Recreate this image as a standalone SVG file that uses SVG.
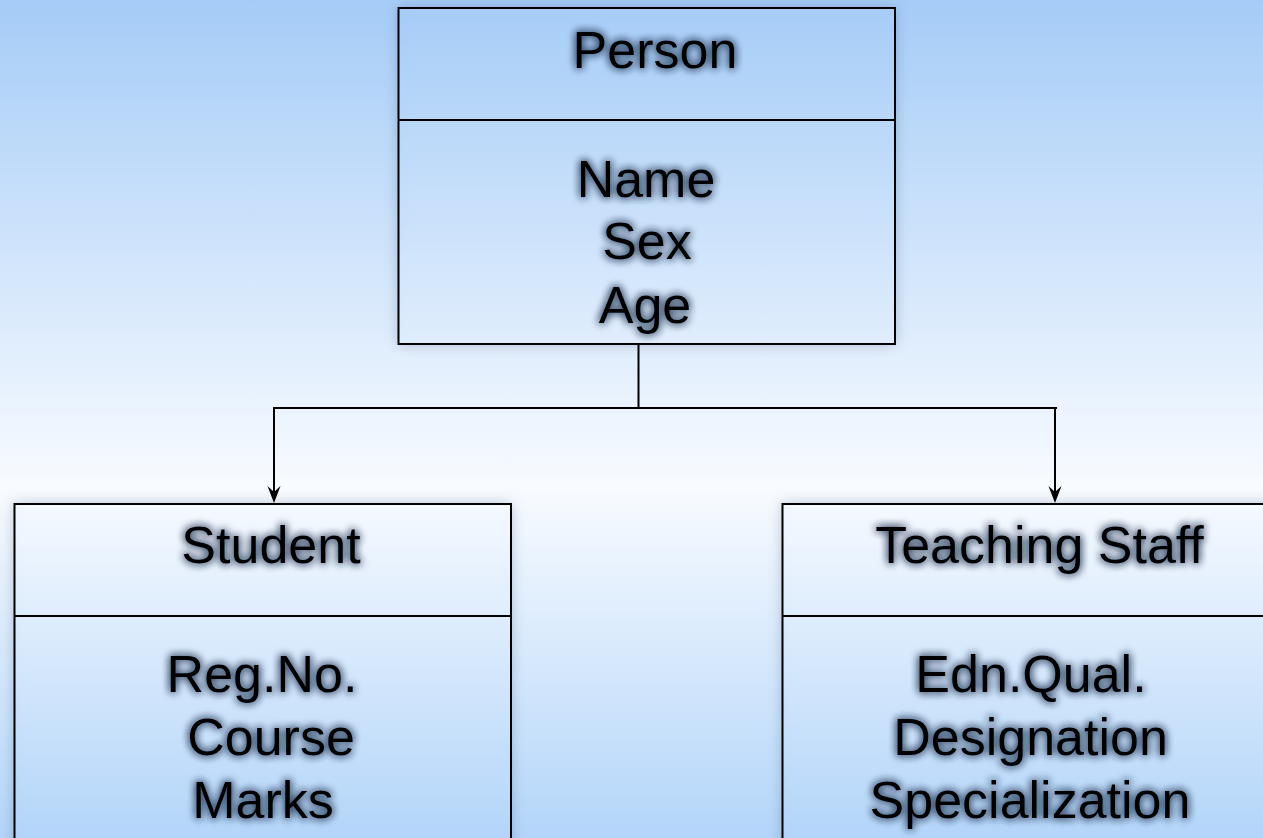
<svg xmlns="http://www.w3.org/2000/svg" width="1263" height="838" viewBox="0 0 1263 838">
  <defs>
    <linearGradient id="bg" gradientUnits="userSpaceOnUse" x1="0" y1="0" x2="0" y2="838">
      <stop offset="0" stop-color="#a5ccf7"/>
      <stop offset="0.58" stop-color="#f8fbff"/>
      <stop offset="1" stop-color="#b3d5f9"/>
    </linearGradient>
    <!-- soft drop shadow behind each class box -->
    <filter id="boxShadow" x="-10%" y="-10%" width="120%" height="120%">
      <feGaussianBlur stdDeviation="7"/>
    </filter>
    <!-- faint inner shading along the box edges -->
    <filter id="innerShade" x="0" y="0" width="100%" height="100%">
      <feFlood flood-color="#5a7190" flood-opacity="0.35" result="c"/>
      <feComposite in="c" in2="SourceAlpha" operator="out" result="ring"/>
      <feGaussianBlur in="ring" stdDeviation="6" result="blur"/>
      <feComposite in="blur" in2="SourceAlpha" operator="in" result="inner"/>
      <feMerge>
        <feMergeNode in="SourceGraphic"/>
        <feMergeNode in="inner"/>
      </feMerge>
    </filter>
    <!-- dark glow behind the lettering -->
    <filter id="glow" x="-20%" y="-40%" width="140%" height="180%">
      <feGaussianBlur in="SourceAlpha" stdDeviation="4.5" result="b"/>
      <feFlood flood-color="#22324c" flood-opacity="0.85"/>
      <feComposite in2="b" operator="in" result="s"/>
      <feMerge>
        <feMergeNode in="s"/>
        <feMergeNode in="s"/>
        <feMergeNode in="SourceGraphic"/>
      </feMerge>
    </filter>
    <!-- downward barbed arrowhead, tip at the origin -->
    <path id="head" d="M0 0 L-6.5 -17 L0 -11 L6.5 -17 Z" fill="#000"/>
    <style>
      .frame { fill: url(#bg); stroke: none; filter: url(#innerShade); }
      .edge { fill: none; stroke: #000; stroke-width: 2; }
      .shadow { fill: #3c5272; opacity: 0.35; filter: url(#boxShadow); }
      .label { font-family: "Liberation Sans", Arial, sans-serif; font-size: 52px; fill: #000; text-anchor: middle; filter: url(#glow); }
      .link { fill: none; stroke: #000; stroke-width: 2; }
    </style>
  </defs>

  <rect x="0" y="0" width="1263" height="838" fill="url(#bg)"/>

  <!-- Person class -->
  <g id="person">
    <rect class="shadow" x="398.5" y="8" width="496.5" height="336"/>
    <rect class="frame" x="398.5" y="8" width="496.5" height="336"/>
    <rect class="edge" x="398.5" y="8" width="496.5" height="336"/>
    <line class="edge" x1="398.5" y1="120" x2="895" y2="120"/>
    <text class="label" x="655" y="68">Person</text>
    <text class="label" x="646" y="197">Name</text>
    <text class="label" x="647" y="259">Sex</text>
    <text class="label" x="645" y="323">Age</text>
  </g>

  <!-- Student class -->
  <g id="student">
    <rect class="shadow" x="14.5" y="504" width="496.5" height="350"/>
    <rect class="frame" x="14.5" y="504" width="496.5" height="350"/>
    <rect class="edge" x="14.5" y="504" width="496.5" height="350"/>
    <line class="edge" x1="14.5" y1="616" x2="511" y2="616"/>
    <text class="label" x="271" y="563">Student</text>
    <text class="label" x="262" y="692">Reg.No.</text>
    <text class="label" x="271" y="755">Course</text>
    <text class="label" x="263" y="818">Marks</text>
  </g>

  <!-- Teaching Staff class -->
  <g id="teaching-staff">
    <rect class="shadow" x="782.5" y="504" width="496.5" height="350"/>
    <rect class="frame" x="782.5" y="504" width="496.5" height="350"/>
    <rect class="edge" x="782.5" y="504" width="496.5" height="350"/>
    <line class="edge" x1="782.5" y1="616" x2="1279" y2="616"/>
    <text class="label" x="1039.5" y="563">Teaching Staff</text>
    <text class="label" x="1031" y="692">Edn.Qual.</text>
    <text class="label" x="1030.5" y="755">Designation</text>
    <text class="label" x="1030" y="818">Specialization</text>
  </g>

  <!-- inheritance connectors -->
  <g id="connectors">
    <line class="link" x1="638.5" y1="344" x2="638.5" y2="408"/>
    <line class="link" x1="273" y1="408" x2="1057" y2="408"/>
    <line class="link" x1="274" y1="408" x2="274" y2="493"/>
    <line class="link" x1="1055" y1="408" x2="1055" y2="493"/>
    <use href="#head" x="274" y="503"/>
    <use href="#head" x="1055" y="503"/>
  </g>
</svg>
